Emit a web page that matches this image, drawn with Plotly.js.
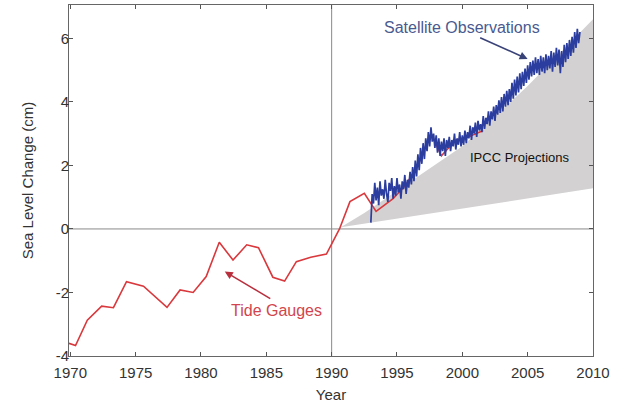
<!DOCTYPE html>
<html>
<head>
<meta charset="utf-8">
<script src="https://cdn.plot.ly/plotly-3.0.1.min.js"></script>
<style>html,body{margin:0;padding:0;background:#fff;}#chart{width:618px;height:406px;}</style>
</head>
<body>
<div id="chart"></div>
<script>
// Tide gauge record (year, cm)
const tideYears = [1969.9,1970.4,1971.3,1972.4,1973.3,1974.3,1975.6,1977.4,1978.4,1979.4,1980.4,1981.4,1982.45,1983.5,1984.4,1985.5,1986.4,1987.3,1988.4,1989.6,1990.6,1991.4,1992.5,1993.4,1994.7,1995.7,1996.6,1997.6,1998.4,1999.5,2000.5,2001.6];
const tideValues = [-3.6,-3.67,-2.87,-2.43,-2.48,-1.66,-1.8,-2.47,-1.92,-2.0,-1.5,-0.42,-0.98,-0.5,-0.59,-1.52,-1.64,-1.03,-0.89,-0.79,0.0,0.86,1.12,0.55,0.95,1.4,2.0,3.0,2.3,2.8,2.9,3.1];

// Satellite altimetry, sampled every 0.1 yr starting 1993.0
const satStart = 1993.0;
const satStep = 0.1;
const satValues = [
 0.2,1.1,0.8,1.45,0.9,1.3,0.75,1.5,1.05,1.25,
 0.95,1.55,1.1,0.85,1.45,1.2,1.6,0.95,1.35,1.05,
 1.6,1.15,1.4,0.95,1.5,1.25,1.7,1.1,1.55,1.3,
 1.8,1.4,1.95,1.5,2.15,1.65,2.35,1.85,2.55,2.05,
 2.7,2.2,2.85,2.45,3.05,2.6,3.2,2.75,3.0,2.55,
 2.95,2.4,2.85,2.3,2.75,2.45,2.85,2.3,2.8,2.55,
 2.9,2.45,2.8,2.6,3.0,2.5,2.85,2.65,3.05,2.6,
 2.95,2.65,3.1,2.7,3.05,2.85,3.25,2.8,3.2,3.0,
 3.35,2.9,3.4,3.1,3.3,3.05,3.55,3.15,3.5,3.3,
 3.7,3.25,3.7,3.45,3.85,3.4,3.9,3.6,4.05,3.65,
 4.15,3.7,4.25,3.85,4.35,3.9,4.4,4.0,4.6,4.1,
 4.7,4.2,4.8,4.3,4.9,4.4,4.95,4.5,5.05,4.6,
 5.15,4.7,5.25,4.8,5.3,4.85,5.4,4.9,5.35,4.85,
 5.45,4.95,5.4,4.9,5.5,5.0,5.45,5.05,5.6,4.95,
 5.55,5.1,5.7,5.15,5.65,4.9,5.6,5.1,5.8,5.25,
 5.85,5.35,5.95,5.45,6.05,5.55,6.2,5.7,6.3,5.85,
 6.2
];

// IPCC projection envelope
const ipccUpperYears = [1990.7,1992.5,1995,2000,2005,2010];
const ipccUpper = [0.05,0.5,1.2,2.6,4.5,6.6];
const ipccLowerYears = [1990.7,2010];
const ipccLower = [0.05,1.28];

const xTicks = [1970,1975,1980,1985,1990,1995,2000,2005,2010];
const yTicks = [-4,-2,0,2,4,6];

const font = {family:'Liberation Sans, Arial, sans-serif', size:15, color:'#333'};

const traces = [
 {x:ipccLowerYears, y:ipccLower, mode:'lines', line:{width:0,color:'rgba(0,0,0,0)'}, hoverinfo:'skip', showlegend:false},
 {x:ipccUpperYears, y:ipccUpper, mode:'lines', line:{width:0,color:'rgba(0,0,0,0)'}, fill:'tonexty', fillcolor:'#d3d1d1', hoverinfo:'skip', showlegend:false},
 {x:tideYears, y:tideValues, mode:'lines', line:{color:'#d9383c', width:1.6}, showlegend:false},
 {x0:satStart, dx:satStep, y:satValues, mode:'lines', line:{color:'#2b3d9e', width:1.7}, showlegend:false}
];

const layout = {
 width:618, height:406,
 margin:{l:69, r:25, t:5, b:50},
 paper_bgcolor:'#fff', plot_bgcolor:'#fff',
 font:font,
 showlegend:false,
 xaxis:{range:[1969.9,2010], tickvals:xTicks, ticktext:xTicks.map(String), ticks:'inside', ticklen:4, tickcolor:'#555',
   showline:true, linecolor:'#666', linewidth:1, mirror:'ticks', showgrid:false, zeroline:false, ticklabelstandoff:3,
   title:{text:'Year', font:font, standoff:9}, tickfont:font},
 yaxis:{range:[-4,7.05], tickvals:yTicks, ticktext:yTicks.map(String), ticks:'inside', ticklen:4, tickcolor:'#555',
   showline:true, linecolor:'#666', linewidth:1, mirror:'ticks', showgrid:false, zeroline:false, ticklabelstandoff:-4,
   title:{text:'Sea Level Change (cm)', font:font, standoff:18}, tickfont:font},
 shapes:[
   {type:'line', xref:'x', yref:'paper', x0:1990, x1:1990, y0:0, y1:1, line:{color:'#8a8a8a', width:1}, layer:'below'},
   {type:'line', xref:'paper', yref:'y', x0:0, x1:1, y0:0, y1:0, line:{color:'#8a8a8a', width:1}, layer:'below'}
 ],
 annotations:[
   {x:2000.0, y:6.33, xref:'x', yref:'y', text:'Satellite Observations', showarrow:false, font:{family:font.family, size:16, color:'#4a5a90'}},
   {x:2005.0, y:5.35, xref:'x', yref:'y', text:'', showarrow:true, arrowhead:2, arrowsize:1, arrowwidth:1.6, arrowcolor:'#3a4378', ax:-49, ay:-22},
   {x:2004.34, y:2.24, xref:'x', yref:'y', text:'IPCC Projections', showarrow:false, font:{family:font.family, size:13, color:'#111'}},
   {x:1985.75, y:-2.58, xref:'x', yref:'y', text:'Tide Gauges', showarrow:false, font:{family:font.family, size:16, color:'#d2454c'}},
   {x:1981.82, y:-1.34, xref:'x', yref:'y', text:'', showarrow:true, arrowhead:2, arrowsize:1, arrowwidth:1.6, arrowcolor:'#b8303e', ax:47, ay:28}
 ]
};

Plotly.newPlot('chart', traces, layout, {displayModeBar:false, staticPlot:true});
</script>
</body>
</html>
